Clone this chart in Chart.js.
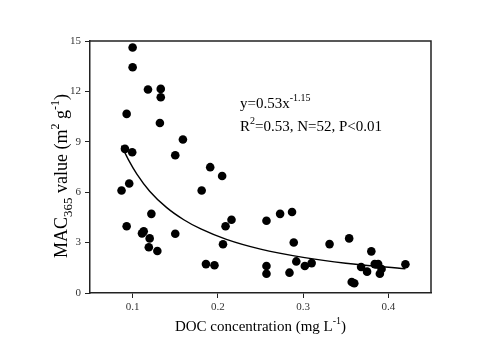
<!DOCTYPE html>
<html>
<head>
<meta charset="utf-8">
<script src="https://cdn.jsdelivr.net/npm/chart.js@4.4.1/dist/chart.umd.min.js"></script>
<style>
  html, body { margin: 0; padding: 0; background: #fff; }
  #wrap { width: 500px; height: 352px; }
</style>
</head>
<body>
<div id="wrap"><canvas id="mac" width="500" height="352"></canvas></div>
<script>
// DOC concentration (mg L-1) of each sample
var docValues = [0.100, 0.100, 0.118, 0.133, 0.133, 0.093, 0.132, 0.159, 0.091, 0.0995, 0.150,
                 0.096, 0.087, 0.122, 0.093, 0.113, 0.111, 0.120, 0.150, 0.119, 0.129,
                 0.181, 0.191, 0.205, 0.216, 0.209, 0.206, 0.186, 0.196,
                 0.257, 0.273, 0.287, 0.289, 0.257, 0.257, 0.284, 0.292, 0.302, 0.310,
                 0.331, 0.354, 0.380, 0.368, 0.375, 0.384, 0.388, 0.392, 0.390, 0.420, 0.357, 0.360, 0.386];
// MAC365 value (m2 g-1)
var macValues = [14.61, 13.44, 12.11, 12.15, 11.65, 10.66, 10.12, 9.14, 8.58, 8.38, 8.20,
                 6.52, 6.10, 4.71, 3.97, 3.67, 3.55, 3.25, 3.53, 2.72, 2.50,
                 6.10, 7.49, 6.96, 4.36, 3.97, 2.90, 1.72, 1.65,
                 4.30, 4.71, 4.82, 3.01, 1.61, 1.15, 1.21, 1.88, 1.61, 1.78,
                 2.91, 3.25, 2.48, 1.55, 1.27, 1.72, 1.72, 1.43, 1.15, 1.71, 0.65, 0.58, 1.70];

// fitted power curve
var fitX = [0.087, 0.095, 0.105, 0.12, 0.14, 0.16, 0.18, 0.21, 0.25, 0.30, 0.35, 0.42];
var fitY = [8.77, 7.94, 7.08, 6.06, 5.08, 4.36, 3.81, 3.19, 2.61, 2.12, 1.77, 1.44];

var xTicks = [0.1, 0.2, 0.3, 0.4];
var yTicks = [0, 3, 6, 9, 12, 15];

var SERIF = '"Liberation Serif", "Times New Roman", serif';

// draws a run of text pieces (normal / sup / sub)
function richWidth(ctx, parts) {
  var w = 0;
  parts.forEach(function (p) {
    ctx.font = p.size + 'px ' + SERIF;
    w += ctx.measureText(p.t).width;
  });
  return w;
}
function drawRich(ctx, parts, x, y) {
  parts.forEach(function (p) {
    ctx.font = p.size + 'px ' + SERIF;
    ctx.fillText(p.t, x, y + (p.dy || 0));
    x += ctx.measureText(p.t).width;
  });
}

var extras = {
  id: 'extras',
  afterDraw: function (chart) {
    var ctx = chart.ctx, a = chart.chartArea;
    ctx.save();
    // box: top and right edges
    ctx.strokeStyle = '#222';
    ctx.lineWidth = 1.5;
    ctx.beginPath();
    ctx.moveTo(a.left, a.top);
    ctx.lineTo(a.right, a.top);
    ctx.lineTo(a.right, a.bottom);
    ctx.stroke();

    ctx.fillStyle = '#000';
    ctx.textAlign = 'left';
    ctx.textBaseline = 'alphabetic';

    // x title
    var xt = [{t: 'DOC concentration (mg L', size: 15},
              {t: '-1', size: 10, dy: -7},
              {t: ')', size: 15}];
    var w = richWidth(ctx, xt);
    drawRich(ctx, xt, (a.left + a.right) / 2 - w / 2, 331);

    // y title
    var yt = [{t: 'MAC', size: 18},
              {t: '365', size: 13, dy: 5},
              {t: ' value (m', size: 18},
              {t: '2', size: 12, dy: -8},
              {t: ' g', size: 18},
              {t: '-1', size: 12, dy: -8},
              {t: ')', size: 18}];
    w = richWidth(ctx, yt);
    ctx.save();
    ctx.translate(67, 176);
    ctx.rotate(-Math.PI / 2);
    drawRich(ctx, yt, -w / 2, 0);
    ctx.restore();

    // equation
    drawRich(ctx, [{t: 'y=0.53x', size: 15}, {t: '-1.15', size: 10, dy: -7}], 240, 108);
    drawRich(ctx, [{t: 'R', size: 15}, {t: '2', size: 10, dy: -7},
                   {t: '=0.53, N=52, P<0.01', size: 15}], 240, 131);
    ctx.restore();
  }
};

var points = docValues.map(function (d, i) { return {x: d, y: macValues[i]}; });
var curve = fitX.map(function (d, i) { return {x: d, y: fitY[i]}; });

var ctx = document.getElementById('mac').getContext('2d');
var macChart = new Chart(ctx, {
  type: 'scatter',
  data: {
    datasets: [{
      label: 'samples',
      data: points,
      backgroundColor: '#000',
      borderColor: '#000',
      pointRadius: 4.3,
      pointHoverRadius: 4.3,
      borderWidth: 0
    }, {
      label: 'fit',
      type: 'line',
      data: curve,
      borderColor: '#000',
      borderWidth: 1.4,
      pointRadius: 0,
      fill: false,
      cubicInterpolationMode: 'monotone'
    }]
  },
  options: {
    responsive: false,
    animation: false,
    devicePixelRatio: 1,
    layout: { padding: { top: 41, right: 69, left: 0, bottom: 0 } },
    plugins: {
      legend: { display: false },
      tooltip: { enabled: false }
    },
    scales: {
      x: {
        type: 'linear',
        min: 0.05,
        max: 0.45,
        afterBuildTicks: function (s) { s.ticks = xTicks.map(function (v) { return {value: v}; }); },
        afterFit: function (s) { s.height = 59; },
        grid: { drawOnChartArea: false, drawTicks: true, tickLength: 5, color: '#222', tickWidth: 1 },
        border: { color: '#222', width: 1.5 },
        ticks: {
          color: '#333',
          padding: 3,
          font: { family: SERIF, size: 11 },
          callback: function (v) { return v.toFixed(1); }
        }
      },
      y: {
        min: 0,
        max: 15,
        afterBuildTicks: function (s) { s.ticks = yTicks.map(function (v) { return {value: v}; }); },
        afterFit: function (s) { s.width = 90; },
        grid: { drawOnChartArea: false, drawTicks: true, tickLength: 5, color: '#222', tickWidth: 1 },
        border: { color: '#222', width: 1.5 },
        ticks: {
          color: '#333',
          padding: 4,
          font: { family: SERIF, size: 11 }
        }
      }
    }
  },
  plugins: [extras]
});
</script>
</body>
</html>
